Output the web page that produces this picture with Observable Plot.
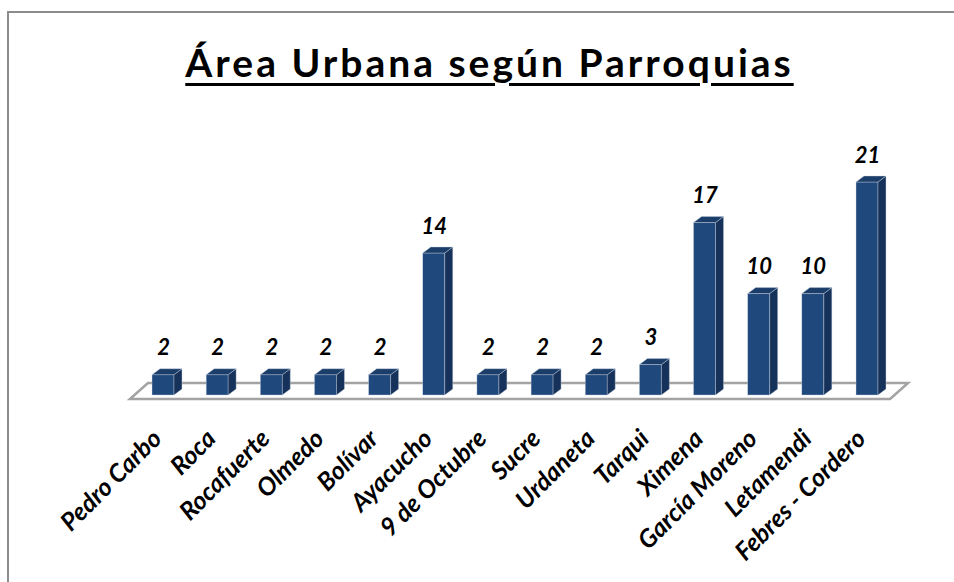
<!DOCTYPE html>
<html>
<head>
<meta charset="utf-8">
<script src="https://cdn.jsdelivr.net/npm/d3@7"></script>
<script src="https://cdn.jsdelivr.net/npm/@observablehq/plot@0.6"></script>
<style>
  body { margin: 0; background: #fff; overflow: hidden; width: 954px; height: 582px; position: relative; }
  #frame { position: absolute; left: 7px; top: 11px; width: 1000px; height: 1000px; border: 2px solid #8c8c8c; pointer-events: none; }
  #title { position: relative; height: 100px; }
  #title span { position: absolute; left: 0; width: 979px; top: 43px; text-align: center;
    font-family: Lato, sans-serif; font-weight: bold; font-size: 39px; line-height: 39px; letter-spacing: 3px;
    text-decoration: underline; text-decoration-thickness: 3px; text-underline-offset: 6px; color: #000; }
  #chart { position: relative; }
</style>
</head>
<body>
<div id="title"><span>Área Urbana según Parroquias</span></div>
<div id="chart"></div>
<div id="frame"></div>
<script>
const parroquias = ["Pedro Carbo","Roca","Rocafuerte","Olmedo","Bolívar","Ayacucho","9 de Octubre","Sucre","Urdaneta","Tarqui","Ximena","García Moreno","Letamendi","Febres - Cordero"];
const areas = [2,2,2,2,2,14,2,2,2,3,17,10,10,21];

const data = parroquias.map((name, i) => ({i, name, value: areas[i]}));
const half = 0.203;        // half bar width in band units
const depth = [8, -6];     // 3D offset of bars (px)

function floor(index, {x, y}) {
  const g = d3.create("svg:g");
  const left = x(-0.5) - 6, right = x(data.length - 0.5) - 4;
  const yf = y(0) + 4, dx = 18, dy = -16;
  g.append("path")
    .attr("d", `M${left},${yf}L${right},${yf}L${right + dx},${yf + dy}L${left + dx},${yf + dy}Z`)
    .attr("fill", "#fff").attr("stroke", "#a3a3a3").attr("stroke-width", 2.5).attr("stroke-linejoin", "miter");
  return g.node();
}

function faces(index, {x, y}) {
  const g = d3.create("svg:g");
  for (const d of data) {
    const xl = x(d.i - half), xr = x(d.i + half), yt = y(d.value), yb = y(0);
    const [ox, oy] = depth;
    g.append("path")
      .attr("d", `M${xr},${yt}L${xr + ox},${yt + oy}L${xr + ox},${yb + oy}L${xr},${yb}Z`)
      .attr("fill", "#16325a").attr("stroke", "#c9d3e0").attr("stroke-width", 0.4);
    g.append("path")
      .attr("d", `M${xl},${yt}L${xl + ox},${yt + oy}L${xr + ox},${yt + oy}L${xr},${yt}Z`)
      .attr("fill", "#1b3d6a").attr("stroke", "#c9d3e0").attr("stroke-width", 0.4);
  }
  return g.node();
}

const chart = Plot.plot({
  width: 954,
  height: 482,
  margin: 0,
  x: {domain: [0, data.length - 1], range: [163, 867], axis: null},
  y: {domain: [0, 21], range: [295, 82], axis: null},
  style: {fontFamily: "Lato, sans-serif", overflow: "visible", background: "transparent"},
  marks: [
    floor,
    Plot.rectY(data, {x1: d => d.i - half, x2: d => d.i + half, y: "value", fill: "#1f487c", stroke: "#c9d3e0", strokeWidth: 0.4}),
    faces,
    Plot.text(data, {x: "i", y: "value", text: d => String(d.value), dy: -27,
      fontSize: 22, fontWeight: "bold", fontStyle: "italic", fill: "#000"}),
    Plot.text(data, {x: "i", y: 0, text: "name", rotate: -45, textAnchor: "end", dx: -6, dy: 39,
      fontSize: 25, fontWeight: "bold", fontStyle: "italic", fill: "#000"})
  ]
});
document.getElementById("chart").appendChild(chart);
</script>
</body>
</html>
